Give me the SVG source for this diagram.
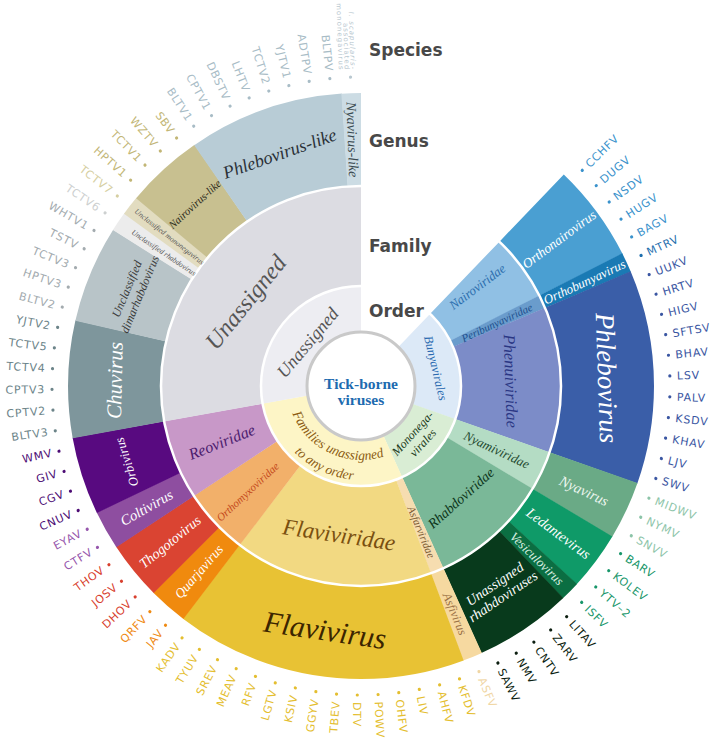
<svg xmlns="http://www.w3.org/2000/svg" width="720" height="747" viewBox="0 0 720 747">
<style>
.seg{fill:none}
.o{stroke-width:46}
.f{stroke-width:100}
.g{stroke-width:93}
.lab{font-family:"Liberation Serif",serif;font-style:italic;text-anchor:middle}
.hd{font-family:"DejaVu Sans",sans-serif;font-weight:bold;font-size:17px;fill:#484848}
.sp text{font-family:"DejaVu Sans",sans-serif;font-size:11px;letter-spacing:0.8px}
.R text{text-anchor:start}
.L text{text-anchor:end}
.c0{fill:#3a92cc}.c1{fill:#1f6fae}.c2{fill:#3a56a2}.c3{fill:#8cc4a8}.c4{fill:#18966a}.c5{fill:#0c1e10}.c6{fill:#f0d6a4}.c7{fill:#e4be30}.c8{fill:#ef8a12}.c9{fill:#d8402e}.c10{fill:#9656ac}.c11{fill:#4c0c74}.c12{fill:#6c8489}.c13{fill:#a3abaf}.c14{fill:#cdd0d0}.c15{fill:#d6cfa2}.c16{fill:#c2b676}.c17{fill:#a8bcc6}.c18{fill:#b9c8d0}
</style>
<rect width="720" height="747" fill="#ffffff"/>

<!-- Order ring -->
<g id="order-bunyavirales"><circle class="seg o" cx="361" cy="386" r="77" pathLength="360" transform="rotate(-90 361 386)" stroke="#dce9f7" stroke-dasharray="65.65 400" stroke-dashoffset="-43.8"/></g>
<g id="order-mononegavirales"><circle class="seg o" cx="361" cy="386" r="77" pathLength="360" transform="rotate(-90 361 386)" stroke="#d9edd4" stroke-dasharray="46.37 400" stroke-dashoffset="-109.35"/></g>
<g id="order-families-unassigned"><circle class="seg o" cx="361" cy="386" r="77" pathLength="360" transform="rotate(-90 361 386)" stroke="#fdf5c6" stroke-dasharray="104.22 400" stroke-dashoffset="-155.62"/></g>
<g id="order-unassigned"><circle class="seg o" cx="361" cy="386" r="77" pathLength="360" transform="rotate(-90 361 386)" stroke="#ededf2" stroke-dasharray="100.26 400" stroke-dashoffset="-259.74"/></g>

<!-- Family ring -->
<g id="fam-nairoviridae"><circle class="seg f" cx="361" cy="386" r="150" pathLength="360" transform="rotate(-90 361 386)" stroke="#90c0e4" stroke-dasharray="19.38 400" stroke-dashoffset="-43.8"/></g>
<g id="fam-peribunyaviridae"><circle class="seg f" cx="361" cy="386" r="150" pathLength="360" transform="rotate(-90 361 386)" stroke="#6a9ccc" stroke-dasharray="3.96 400" stroke-dashoffset="-63.08"/></g>
<g id="fam-phenuiviridae"><circle class="seg f" cx="361" cy="386" r="150" pathLength="360" transform="rotate(-90 361 386)" stroke="#7c8cc8" stroke-dasharray="42.51 400" stroke-dashoffset="-66.94"/></g>
<g id="fam-nyamiviridae"><circle class="seg f" cx="361" cy="386" r="150" pathLength="360" transform="rotate(-90 361 386)" stroke="#b4dcc4" stroke-dasharray="11.67 400" stroke-dashoffset="-109.35"/></g>
<g id="fam-rhabdoviridae"><circle class="seg f" cx="361" cy="386" r="150" pathLength="360" transform="rotate(-90 361 386)" stroke="#7ab898" stroke-dasharray="34.8 400" stroke-dashoffset="-120.92"/></g>
<g id="fam-asfarviridae"><circle class="seg f" cx="361" cy="386" r="150" pathLength="360" transform="rotate(-90 361 386)" stroke="#f6ddb0" stroke-dasharray="3.96 400" stroke-dashoffset="-155.62"/></g>
<g id="fam-flaviviridae"><circle class="seg f" cx="361" cy="386" r="150" pathLength="360" transform="rotate(-90 361 386)" stroke="#f2d982" stroke-dasharray="57.94 400" stroke-dashoffset="-159.48"/></g>
<g id="fam-orthomyxoviridae"><circle class="seg f" cx="361" cy="386" r="150" pathLength="360" transform="rotate(-90 361 386)" stroke="#f2b06a" stroke-dasharray="19.38 400" stroke-dashoffset="-217.32"/></g>
<g id="fam-reoviridae"><circle class="seg f" cx="361" cy="386" r="150" pathLength="360" transform="rotate(-90 361 386)" stroke="#c898c8" stroke-dasharray="23.24 400" stroke-dashoffset="-236.6"/></g>
<g id="fam-unassigned"><circle class="seg f" cx="361" cy="386" r="150" pathLength="360" transform="rotate(-90 361 386)" stroke="#dcdce2" stroke-dasharray="100.26 400" stroke-dashoffset="-259.74"/></g>

<!-- Genus ring -->
<g id="gen-orthonairovirus"><circle class="seg g" cx="361" cy="386" r="246.5" pathLength="360" transform="rotate(-90 361 386)" stroke="#4a9fd2" stroke-dasharray="19.38 400" stroke-dashoffset="-43.8"/></g>
<g id="gen-orthobunyavirus"><circle class="seg g" cx="361" cy="386" r="246.5" pathLength="360" transform="rotate(-90 361 386)" stroke="#1a7ab4" stroke-dasharray="3.96 400" stroke-dashoffset="-63.08"/></g>
<g id="gen-phlebovirus"><circle class="seg g" cx="361" cy="386" r="246.5" pathLength="360" transform="rotate(-90 361 386)" stroke="#3a5ea8" stroke-dasharray="42.51 400" stroke-dashoffset="-66.94"/></g>
<g id="gen-nyavirus"><circle class="seg g" cx="361" cy="386" r="246.5" pathLength="360" transform="rotate(-90 361 386)" stroke="#6aaa86" stroke-dasharray="11.67 400" stroke-dashoffset="-109.35"/></g>
<g id="gen-ledantevirus"><circle class="seg g" cx="361" cy="386" r="246.5" pathLength="360" transform="rotate(-90 361 386)" stroke="#0f9a68" stroke-dasharray="11.67 400" stroke-dashoffset="-120.92"/></g>
<g id="gen-vesiculovirus"><circle class="seg g" cx="361" cy="386" r="246.5" pathLength="360" transform="rotate(-90 361 386)" stroke="#0b6e42" stroke-dasharray="3.95 400" stroke-dashoffset="-132.49"/></g>
<g id="gen-unassigned-rhabdo"><circle class="seg g" cx="361" cy="386" r="246.5" pathLength="360" transform="rotate(-90 361 386)" stroke="#083a1c" stroke-dasharray="19.38 400" stroke-dashoffset="-136.34"/></g>
<g id="gen-asfivirus"><circle class="seg g" cx="361" cy="386" r="246.5" pathLength="360" transform="rotate(-90 361 386)" stroke="#f6d9a0" stroke-dasharray="3.96 400" stroke-dashoffset="-155.62"/></g>
<g id="gen-flavivirus"><circle class="seg g" cx="361" cy="386" r="246.5" pathLength="360" transform="rotate(-90 361 386)" stroke="#e8c234" stroke-dasharray="57.94 400" stroke-dashoffset="-159.48"/></g>
<g id="gen-quarjavirus"><circle class="seg g" cx="361" cy="386" r="246.5" pathLength="360" transform="rotate(-90 361 386)" stroke="#f08a0e" stroke-dasharray="7.81 400" stroke-dashoffset="-217.32"/></g>
<g id="gen-thogotovirus"><circle class="seg g" cx="361" cy="386" r="246.5" pathLength="360" transform="rotate(-90 361 386)" stroke="#da4432" stroke-dasharray="11.67 400" stroke-dashoffset="-225.03"/></g>
<g id="gen-coltivirus"><circle class="seg g" cx="361" cy="386" r="246.5" pathLength="360" transform="rotate(-90 361 386)" stroke="#8e4ea0" stroke-dasharray="7.81 400" stroke-dashoffset="-236.6"/></g>
<g id="gen-orbivirus"><circle class="seg g" cx="361" cy="386" r="246.5" pathLength="360" transform="rotate(-90 361 386)" stroke="#580a80" stroke-dasharray="15.53 400" stroke-dashoffset="-244.31"/></g>
<g id="gen-chuvirus"><circle class="seg g" cx="361" cy="386" r="246.5" pathLength="360" transform="rotate(-90 361 386)" stroke="#7e969c" stroke-dasharray="23.23 400" stroke-dashoffset="-259.74"/></g>
<g id="gen-dimarhabdo"><circle class="seg g" cx="361" cy="386" r="246.5" pathLength="360" transform="rotate(-90 361 386)" stroke="#b8c4c8" stroke-dasharray="19.38 400" stroke-dashoffset="-282.87"/></g>
<g id="gen-unclass-rhabdo"><circle class="seg g" cx="361" cy="386" r="246.5" pathLength="360" transform="rotate(-90 361 386)" stroke="#ececec" stroke-dasharray="3.96 400" stroke-dashoffset="-302.15"/></g>
<g id="gen-unclass-mononega"><circle class="seg g" cx="361" cy="386" r="246.5" pathLength="360" transform="rotate(-90 361 386)" stroke="#e2dcc0" stroke-dasharray="3.95 400" stroke-dashoffset="-306.01"/></g>
<g id="gen-nairovirus-like"><circle class="seg g" cx="361" cy="386" r="246.5" pathLength="360" transform="rotate(-90 361 386)" stroke="#c8c090" stroke-dasharray="15.53 400" stroke-dashoffset="-309.86"/></g>
<g id="gen-phlebovirus-like"><circle class="seg g" cx="361" cy="386" r="246.5" pathLength="360" transform="rotate(-90 361 386)" stroke="#b8ccd6" stroke-dasharray="30.95 400" stroke-dashoffset="-325.29"/></g>
<g id="gen-nyavirus-like"><circle class="seg g" cx="361" cy="386" r="246.5" pathLength="360" transform="rotate(-90 361 386)" stroke="#ccdce4" stroke-dasharray="3.86 400" stroke-dashoffset="-356.14"/></g>

<!-- separators and centre -->
<g id="separators" fill="none" stroke="#ffffff" stroke-width="2.5">
<circle cx="361" cy="386" r="100"/>
<circle cx="361" cy="386" r="200"/>
</g>
<g id="centre">
<circle cx="361" cy="386" r="54" fill="#ffffff" stroke="#c9c9c9" stroke-width="3"/>
<text x="361" y="389" font-family="'Liberation Serif',serif" font-weight="bold" font-size="15.5" fill="#1e6bb0" text-anchor="middle">Tick-borne</text>
<text x="361" y="405" font-family="'Liberation Serif',serif" font-weight="bold" font-size="15.5" fill="#1e6bb0" text-anchor="middle">viruses</text>
</g>

<!-- Order labels -->
<g id="order-labels" class="lab">
<text transform="rotate(76.58 361 386)" x="361" y="309" dy="0.35em" font-size="12.5" fill="#2a6ab0">Bunyavirales</text>
<text transform="rotate(-47.51 361 386)" font-size="12" fill="#1a3a1a"><tspan x="361" y="460">Mononega-</tspan><tspan x="361" y="474">virales</tspan></text>
<path id="arc1" d="M288.1,398.8 A74,74 0 0 0 398,450.1" fill="none"/>
<path id="arc2" d="M268.4,402.3 A94,94 0 0 0 408,467.4" fill="none"/>
<text font-size="13.5" fill="#8a5a10"><textPath href="#arc1" startOffset="50%">Families unassigned</textPath></text>
<text font-size="13.5" fill="#8a5a10"><textPath href="#arc2" startOffset="50%">to any order</textPath></text>
<text transform="translate(307.5,342.5) rotate(-50)" dy="0.35em" font-size="18" fill="#555555">Unassigned</text>
</g>

<!-- Family labels -->
<g id="family-labels" class="lab">
<text transform="translate(477.3,286.6) rotate(-37)" dy="0.35em" font-size="13" fill="#2c6eae">Nairoviridae</text>
<text transform="rotate(-24.99 361 386)" x="511" y="386" dy="0.35em" font-size="11" fill="#1d4f8c">Peribunyaviridae</text>
<text transform="rotate(88.15 361 386)" x="361" y="236" dy="0.35em" font-size="16.5" fill="#2b3784">Phenuiviridae</text>
<text transform="rotate(25.14 361 386)" x="511" y="386" dy="0.35em" font-size="13" fill="#1f4a30">Nyamiviridae</text>
<text transform="rotate(-41.73 361 386)" x="361" y="536" dy="0.35em" font-size="14" fill="#0c3418">Rhabdoviridae</text>
<text transform="rotate(67.55 361 386)" x="519" y="386" dy="0.35em" font-size="11" fill="#7a5a30">Asfarviridae</text>
<text transform="rotate(8.4 361 386)" x="361" y="536" dy="0.35em" font-size="23" fill="#7a5010">Flaviviridae</text>
<text transform="rotate(316.96 361 386)" x="206" y="386" dy="0.35em" font-size="11" fill="#c4481c">Orthomyxoviridae</text>
<text transform="rotate(338.17 361 386)" x="211" y="386" dy="0.35em" font-size="16" fill="#4c1c6e">Reoviridae</text>
<text transform="translate(245.3,301.9) rotate(-51)" dy="0.35em" font-size="24" fill="#555555">Unassigned</text>
</g>

<!-- Genus labels -->
<g id="genus-labels" class="lab">
<text transform="rotate(-36.56 361 386)" x="607.5" y="386" dy="0.35em" font-size="13.5" fill="#ffffff">Orthonairovirus</text>
<text transform="rotate(-24.99 361 386)" x="607.5" y="386" dy="0.35em" font-size="13" fill="#ffffff">Orthobunyavirus</text>
<text transform="rotate(88.15 361 386)" x="361" y="139.5" dy="0.35em" font-size="27" fill="#ffffff">Phlebovirus</text>
<text transform="rotate(25.14 361 386)" x="607.5" y="386" dy="0.35em" font-size="14.5" fill="#eef7f0">Nyavirus</text>
<text transform="rotate(36.7 361 386)" x="607.5" y="386" dy="0.35em" font-size="14.5" fill="#ffffff">Ledantevirus</text>
<text transform="rotate(44.42 361 386)" x="607.5" y="386" dy="0.35em" font-size="13" fill="#d8eee0">Vesiculovirus</text>
<text transform="rotate(-34.02 361 386)" font-size="14" fill="#ffffff"><tspan x="361" y="629.6">Unassigned</tspan><tspan x="361" y="644.6">rhabdoviruses</tspan></text>
<text transform="rotate(67.55 361 386)" x="607.5" y="386" dy="0.35em" font-size="12.5" fill="#9a7044">Asfivirus</text>
<text transform="rotate(8.4 361 386)" x="361" y="632.5" dy="0.35em" font-size="30" fill="#3b2500">Flavivirus</text>
<text transform="rotate(311.18 361 386)" x="114.5" y="386" dy="0.35em" font-size="13.5" fill="#ffffff">Quarjavirus</text>
<text transform="rotate(320.82 361 386)" x="114.5" y="386" dy="0.35em" font-size="14" fill="#ffffff">Thogotovirus</text>
<text transform="rotate(330.46 361 386)" x="114.5" y="386" dy="0.35em" font-size="14.5" fill="#ffffff">Coltivirus</text>
<text transform="rotate(252.03 361 386)" x="361" y="139.5" dy="0.35em" font-size="13" fill="#ffffff">Orbivirus</text>
<text transform="rotate(271.3 361 386)" x="361" y="139.5" dy="0.35em" font-size="21" fill="#ffffff">Chuvirus</text>
<text transform="rotate(292.51 361 386)" font-size="12" fill="#3a3a3a"><tspan x="361" y="136.5">Unclassified</tspan><tspan x="361" y="150.5">dimarhabdovirus</tspan></text>
<text transform="rotate(34.08 361 386)" x="123" y="386" dy="0.35em" font-size="7.5" fill="#555555">Unclassified rhabdovirus</text>
<text transform="rotate(37.94 361 386)" x="118" y="386" dy="0.35em" font-size="7.5" fill="#555555">Unclassified mononegavirus</text>
<text transform="rotate(317.58 361 386)" x="361" y="139.5" dy="0.35em" font-size="11" fill="#2a2a1a">Nairovirus-like</text>
<text transform="rotate(340.72 361 386)" x="361" y="139.5" dy="0.35em" font-size="18" fill="#2a3036">Phlebovirus-like</text>
<text transform="rotate(88.07 361 386)" x="114.5" y="386" dy="0.35em" font-size="14" fill="#3a4a50">Nyavirus-like</text>
</g>

<!-- Level headings -->
<g id="headings">
<text class="hd" x="369" y="56">Species</text>
<text class="hd" x="369" y="147">Genus</text>
<text class="hd" x="369" y="252">Family</text>
<text class="hd" x="369" y="317">Order</text>
</g>

<!-- Species -->
<g id="species" class="sp">
<g id="sp-CCHFV" class="R c0" transform="rotate(-44.27 361 386)"><circle cx="670" cy="386" r="1.6"/><text x="677" y="386" dy="0.35em">CCHFV</text></g>
<g id="sp-DUGV" class="R c0" transform="rotate(-40.42 361 386)"><circle cx="670" cy="386" r="1.6"/><text x="677" y="386" dy="0.35em">DUGV</text></g>
<g id="sp-NSDV" class="R c0" transform="rotate(-36.56 361 386)"><circle cx="670" cy="386" r="1.6"/><text x="677" y="386" dy="0.35em">NSDV</text></g>
<g id="sp-HUGV" class="R c0" transform="rotate(-32.7 361 386)"><circle cx="670" cy="386" r="1.6"/><text x="677" y="386" dy="0.35em">HUGV</text></g>
<g id="sp-BAGV" class="R c0" transform="rotate(-28.85 361 386)"><circle cx="670" cy="386" r="1.6"/><text x="677" y="386" dy="0.35em">BAGV</text></g>
<g id="sp-MTRV" class="R c1" transform="rotate(-24.99 361 386)"><circle cx="670" cy="386" r="1.6"/><text x="677" y="386" dy="0.35em">MTRV</text></g>
<g id="sp-UUKV" class="R c2" transform="rotate(-21.14 361 386)"><circle cx="670" cy="386" r="1.6"/><text x="677" y="386" dy="0.35em">UUKV</text></g>
<g id="sp-HRTV" class="R c2" transform="rotate(-17.28 361 386)"><circle cx="670" cy="386" r="1.6"/><text x="677" y="386" dy="0.35em">HRTV</text></g>
<g id="sp-HIGV" class="R c2" transform="rotate(-13.42 361 386)"><circle cx="670" cy="386" r="1.6"/><text x="677" y="386" dy="0.35em">HIGV</text></g>
<g id="sp-SFTSV" class="R c2" transform="rotate(-9.57 361 386)"><circle cx="670" cy="386" r="1.6"/><text x="677" y="386" dy="0.35em">SFTSV</text></g>
<g id="sp-BHAV" class="R c2" transform="rotate(-5.71 361 386)"><circle cx="670" cy="386" r="1.6"/><text x="677" y="386" dy="0.35em">BHAV</text></g>
<g id="sp-LSV" class="R c2" transform="rotate(-1.86 361 386)"><circle cx="670" cy="386" r="1.6"/><text x="677" y="386" dy="0.35em">LSV</text></g>
<g id="sp-PALV" class="R c2" transform="rotate(2 361 386)"><circle cx="670" cy="386" r="1.6"/><text x="677" y="386" dy="0.35em">PALV</text></g>
<g id="sp-KSDV" class="R c2" transform="rotate(5.86 361 386)"><circle cx="670" cy="386" r="1.6"/><text x="677" y="386" dy="0.35em">KSDV</text></g>
<g id="sp-KHAV" class="R c2" transform="rotate(9.71 361 386)"><circle cx="670" cy="386" r="1.6"/><text x="677" y="386" dy="0.35em">KHAV</text></g>
<g id="sp-LJV" class="R c2" transform="rotate(13.57 361 386)"><circle cx="670" cy="386" r="1.6"/><text x="677" y="386" dy="0.35em">LJV</text></g>
<g id="sp-SWV" class="R c2" transform="rotate(17.42 361 386)"><circle cx="670" cy="386" r="1.6"/><text x="677" y="386" dy="0.35em">SWV</text></g>
<g id="sp-MIDWV" class="R c3" transform="rotate(21.28 361 386)"><circle cx="670" cy="386" r="1.6"/><text x="677" y="386" dy="0.35em">MIDWV</text></g>
<g id="sp-NYMV" class="R c3" transform="rotate(25.14 361 386)"><circle cx="670" cy="386" r="1.6"/><text x="677" y="386" dy="0.35em">NYMV</text></g>
<g id="sp-SNVV" class="R c3" transform="rotate(28.99 361 386)"><circle cx="670" cy="386" r="1.6"/><text x="677" y="386" dy="0.35em">SNVV</text></g>
<g id="sp-BARV" class="R c4" transform="rotate(32.85 361 386)"><circle cx="670" cy="386" r="1.6"/><text x="677" y="386" dy="0.35em">BARV</text></g>
<g id="sp-KOLEV" class="R c4" transform="rotate(36.7 361 386)"><circle cx="670" cy="386" r="1.6"/><text x="677" y="386" dy="0.35em">KOLEV</text></g>
<g id="sp-YTV-2" class="R c4" transform="rotate(40.56 361 386)"><circle cx="670" cy="386" r="1.6"/><text x="677" y="386" dy="0.35em">YTV–2</text></g>
<g id="sp-ISFV" class="R c4" transform="rotate(44.42 361 386)"><circle cx="670" cy="386" r="1.6"/><text x="677" y="386" dy="0.35em">ISFV</text></g>
<g id="sp-LITAV" class="R c5" transform="rotate(48.27 361 386)"><circle cx="670" cy="386" r="1.6"/><text x="677" y="386" dy="0.35em">LITAV</text></g>
<g id="sp-ZARV" class="R c5" transform="rotate(52.13 361 386)"><circle cx="670" cy="386" r="1.6"/><text x="677" y="386" dy="0.35em">ZARV</text></g>
<g id="sp-CNTV" class="R c5" transform="rotate(55.98 361 386)"><circle cx="670" cy="386" r="1.6"/><text x="677" y="386" dy="0.35em">CNTV</text></g>
<g id="sp-NMV" class="R c5" transform="rotate(59.84 361 386)"><circle cx="670" cy="386" r="1.6"/><text x="677" y="386" dy="0.35em">NMV</text></g>
<g id="sp-SAWV" class="R c5" transform="rotate(63.7 361 386)"><circle cx="670" cy="386" r="1.6"/><text x="677" y="386" dy="0.35em">SAWV</text></g>
<g id="sp-ASFV" class="R c6" transform="rotate(67.55 361 386)"><circle cx="670" cy="386" r="1.6"/><text x="677" y="386" dy="0.35em">ASFV</text></g>
<g id="sp-KFDV" class="R c7" transform="rotate(71.41 361 386)"><circle cx="670" cy="386" r="1.6"/><text x="677" y="386" dy="0.35em">KFDV</text></g>
<g id="sp-AHFV" class="R c7" transform="rotate(75.26 361 386)"><circle cx="670" cy="386" r="1.6"/><text x="677" y="386" dy="0.35em">AHFV</text></g>
<g id="sp-LIV" class="R c7" transform="rotate(79.12 361 386)"><circle cx="670" cy="386" r="1.6"/><text x="677" y="386" dy="0.35em">LIV</text></g>
<g id="sp-OHFV" class="R c7" transform="rotate(82.98 361 386)"><circle cx="670" cy="386" r="1.6"/><text x="677" y="386" dy="0.35em">OHFV</text></g>
<g id="sp-POWV" class="R c7" transform="rotate(86.83 361 386)"><circle cx="670" cy="386" r="1.6"/><text x="677" y="386" dy="0.35em">POWV</text></g>
<g id="sp-DTV" class="R c7" transform="rotate(90.69 361 386)"><circle cx="670" cy="386" r="1.6"/><text x="677" y="386" dy="0.35em">DTV</text></g>
<g id="sp-TBEV" class="L c7" transform="rotate(-85.46 361 386)"><circle cx="52" cy="386" r="1.6"/><text x="45" y="386" dy="0.35em">TBEV</text></g>
<g id="sp-GGYV" class="L c7" transform="rotate(-81.6 361 386)"><circle cx="52" cy="386" r="1.6"/><text x="45" y="386" dy="0.35em">GGYV</text></g>
<g id="sp-KSIV" class="L c7" transform="rotate(-77.74 361 386)"><circle cx="52" cy="386" r="1.6"/><text x="45" y="386" dy="0.35em">KSIV</text></g>
<g id="sp-LGTV" class="L c7" transform="rotate(-73.89 361 386)"><circle cx="52" cy="386" r="1.6"/><text x="45" y="386" dy="0.35em">LGTV</text></g>
<g id="sp-RFV" class="L c7" transform="rotate(-70.03 361 386)"><circle cx="52" cy="386" r="1.6"/><text x="45" y="386" dy="0.35em">RFV</text></g>
<g id="sp-MEAV" class="L c7" transform="rotate(-66.18 361 386)"><circle cx="52" cy="386" r="1.6"/><text x="45" y="386" dy="0.35em">MEAV</text></g>
<g id="sp-SREV" class="L c7" transform="rotate(-62.32 361 386)"><circle cx="52" cy="386" r="1.6"/><text x="45" y="386" dy="0.35em">SREV</text></g>
<g id="sp-TYUV" class="L c7" transform="rotate(-58.46 361 386)"><circle cx="52" cy="386" r="1.6"/><text x="45" y="386" dy="0.35em">TYUV</text></g>
<g id="sp-KADV" class="L c7" transform="rotate(-54.61 361 386)"><circle cx="52" cy="386" r="1.6"/><text x="45" y="386" dy="0.35em">KADV</text></g>
<g id="sp-JAV" class="L c8" transform="rotate(-50.75 361 386)"><circle cx="52" cy="386" r="1.6"/><text x="45" y="386" dy="0.35em">JAV</text></g>
<g id="sp-QRFV" class="L c8" transform="rotate(-46.9 361 386)"><circle cx="52" cy="386" r="1.6"/><text x="45" y="386" dy="0.35em">QRFV</text></g>
<g id="sp-DHOV" class="L c9" transform="rotate(-43.04 361 386)"><circle cx="52" cy="386" r="1.6"/><text x="45" y="386" dy="0.35em">DHOV</text></g>
<g id="sp-JOSV" class="L c9" transform="rotate(-39.18 361 386)"><circle cx="52" cy="386" r="1.6"/><text x="45" y="386" dy="0.35em">JOSV</text></g>
<g id="sp-THOV" class="L c9" transform="rotate(-35.33 361 386)"><circle cx="52" cy="386" r="1.6"/><text x="45" y="386" dy="0.35em">THOV</text></g>
<g id="sp-CTFV" class="L c10" transform="rotate(-31.47 361 386)"><circle cx="52" cy="386" r="1.6"/><text x="45" y="386" dy="0.35em">CTFV</text></g>
<g id="sp-EYAV" class="L c10" transform="rotate(-27.62 361 386)"><circle cx="52" cy="386" r="1.6"/><text x="45" y="386" dy="0.35em">EYAV</text></g>
<g id="sp-CNUV" class="L c11" transform="rotate(-23.76 361 386)"><circle cx="52" cy="386" r="1.6"/><text x="45" y="386" dy="0.35em">CNUV</text></g>
<g id="sp-CGV" class="L c11" transform="rotate(-19.9 361 386)"><circle cx="52" cy="386" r="1.6"/><text x="45" y="386" dy="0.35em">CGV</text></g>
<g id="sp-GIV" class="L c11" transform="rotate(-16.05 361 386)"><circle cx="52" cy="386" r="1.6"/><text x="45" y="386" dy="0.35em">GIV</text></g>
<g id="sp-WMV" class="L c11" transform="rotate(-12.19 361 386)"><circle cx="52" cy="386" r="1.6"/><text x="45" y="386" dy="0.35em">WMV</text></g>
<g id="sp-BLTV3" class="L c12" transform="rotate(-8.34 361 386)"><circle cx="52" cy="386" r="1.6"/><text x="45" y="386" dy="0.35em">BLTV3</text></g>
<g id="sp-CPTV2" class="L c12" transform="rotate(-4.48 361 386)"><circle cx="52" cy="386" r="1.6"/><text x="45" y="386" dy="0.35em">CPTV2</text></g>
<g id="sp-CPTV3" class="L c12" transform="rotate(-0.62 361 386)"><circle cx="52" cy="386" r="1.6"/><text x="45" y="386" dy="0.35em">CPTV3</text></g>
<g id="sp-TCTV4" class="L c12" transform="rotate(3.23 361 386)"><circle cx="52" cy="386" r="1.6"/><text x="45" y="386" dy="0.35em">TCTV4</text></g>
<g id="sp-TCTV5" class="L c12" transform="rotate(7.09 361 386)"><circle cx="52" cy="386" r="1.6"/><text x="45" y="386" dy="0.35em">TCTV5</text></g>
<g id="sp-YJTV2" class="L c12" transform="rotate(10.94 361 386)"><circle cx="52" cy="386" r="1.6"/><text x="45" y="386" dy="0.35em">YJTV2</text></g>
<g id="sp-BLTV2" class="L c13" transform="rotate(14.8 361 386)"><circle cx="52" cy="386" r="1.6"/><text x="45" y="386" dy="0.35em">BLTV2</text></g>
<g id="sp-HPTV3" class="L c13" transform="rotate(18.66 361 386)"><circle cx="52" cy="386" r="1.6"/><text x="45" y="386" dy="0.35em">HPTV3</text></g>
<g id="sp-TCTV3" class="L c13" transform="rotate(22.51 361 386)"><circle cx="52" cy="386" r="1.6"/><text x="45" y="386" dy="0.35em">TCTV3</text></g>
<g id="sp-TSTV" class="L c13" transform="rotate(26.37 361 386)"><circle cx="52" cy="386" r="1.6"/><text x="45" y="386" dy="0.35em">TSTV</text></g>
<g id="sp-WHTV1" class="L c13" transform="rotate(30.22 361 386)"><circle cx="52" cy="386" r="1.6"/><text x="45" y="386" dy="0.35em">WHTV1</text></g>
<g id="sp-TCTV6" class="L c14" transform="rotate(34.08 361 386)"><circle cx="52" cy="386" r="1.6"/><text x="45" y="386" dy="0.35em">TCTV6</text></g>
<g id="sp-TCTV7" class="L c15" transform="rotate(37.94 361 386)"><circle cx="52" cy="386" r="1.6"/><text x="45" y="386" dy="0.35em">TCTV7</text></g>
<g id="sp-HPTV1" class="L c16" transform="rotate(41.79 361 386)"><circle cx="52" cy="386" r="1.6"/><text x="45" y="386" dy="0.35em">HPTV1</text></g>
<g id="sp-TCTV1" class="L c16" transform="rotate(45.65 361 386)"><circle cx="52" cy="386" r="1.6"/><text x="45" y="386" dy="0.35em">TCTV1</text></g>
<g id="sp-WZTV" class="L c16" transform="rotate(49.5 361 386)"><circle cx="52" cy="386" r="1.6"/><text x="45" y="386" dy="0.35em">WZTV</text></g>
<g id="sp-SBV" class="L c16" transform="rotate(53.36 361 386)"><circle cx="52" cy="386" r="1.6"/><text x="45" y="386" dy="0.35em">SBV</text></g>
<g id="sp-BLTV1" class="L c17" transform="rotate(57.22 361 386)"><circle cx="52" cy="386" r="1.6"/><text x="45" y="386" dy="0.35em">BLTV1</text></g>
<g id="sp-CPTV1" class="L c17" transform="rotate(61.07 361 386)"><circle cx="52" cy="386" r="1.6"/><text x="45" y="386" dy="0.35em">CPTV1</text></g>
<g id="sp-DBSTV" class="L c17" transform="rotate(64.93 361 386)"><circle cx="52" cy="386" r="1.6"/><text x="45" y="386" dy="0.35em">DBSTV</text></g>
<g id="sp-LHTV" class="L c17" transform="rotate(68.78 361 386)"><circle cx="52" cy="386" r="1.6"/><text x="45" y="386" dy="0.35em">LHTV</text></g>
<g id="sp-TCTV2" class="L c17" transform="rotate(72.64 361 386)"><circle cx="52" cy="386" r="1.6"/><text x="45" y="386" dy="0.35em">TCTV2</text></g>
<g id="sp-YJTV1" class="L c17" transform="rotate(76.5 361 386)"><circle cx="52" cy="386" r="1.6"/><text x="45" y="386" dy="0.35em">YJTV1</text></g>
<g id="sp-ADTPV" class="L c17" transform="rotate(80.35 361 386)"><circle cx="52" cy="386" r="1.6"/><text x="45" y="386" dy="0.35em">ADTPV</text></g>
<g id="sp-BLTPV" class="L c17" transform="rotate(84.21 361 386)"><circle cx="52" cy="386" r="1.6"/><text x="45" y="386" dy="0.35em">BLTPV</text></g>
<g id="sp-IsAMV" class="L c18" transform="rotate(88.06 361 386)"><circle cx="52" cy="386" r="1.6"/><text x="45" y="386" style="font-size:7px;letter-spacing:1px"><tspan x="45" y="385.5"><tspan font-style="italic">I. scapularis</tspan>-</tspan><tspan x="45" y="391.5">associated</tspan><tspan x="45" y="397.5">mononegavirus</tspan></text></g>
</g>
</svg>
